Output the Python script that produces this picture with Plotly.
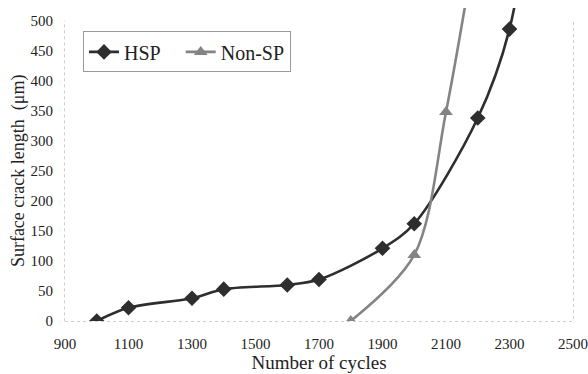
import plotly.graph_objects as go

# HSP data (last point lies beyond the 500 µm axis limit; line runs off the top)
hsp_cycles = [1000, 1100, 1300, 1400, 1600, 1700, 1900, 2000, 2200, 2300, 2400]
hsp_length = [0, 22, 38, 53, 60, 69, 121, 162, 338, 486, 830]

# Non-SP data (last point lies beyond the axis limit)
nonsp_cycles = [1800, 2000, 2100, 2200]
nonsp_length = [0, 110, 348, 650]

x_ticks = [900, 1100, 1300, 1500, 1700, 1900, 2100, 2300, 2500]
y_ticks = [0, 50, 100, 150, 200, 250, 300, 350, 400, 450, 500]

FONT = "Liberation Serif"
W, H = 588, 374
ML, MR, MB, MT = 65, 15, 53, 0
plot_top_px = 13
plot_h = H - MB - MT
dom_top = (plot_h - plot_top_px) / plot_h
y2_max = 500 / dom_top
NB = "\u00a0"

fig = go.Figure()
# invisible trace to create the main (visible) x/y subplot
fig.add_trace(go.Scatter(x=[None], y=[None], showlegend=False, hoverinfo="skip",
                         xaxis="x", yaxis="y"))
fig.add_trace(go.Scatter(
    x=hsp_cycles, y=hsp_length, name="HSP" + NB * 3, mode="lines+markers",
    line=dict(color="#2e2e2e", width=2.6, shape="spline", smoothing=0.9),
    marker=dict(symbol="diamond", size=12, color="#2e2e2e"),
    xaxis="x", yaxis="y2",
))
fig.add_trace(go.Scatter(
    x=nonsp_cycles, y=nonsp_length, name="Non-SP", mode="lines+markers",
    line=dict(color="#848484", width=2.6, shape="spline", smoothing=0.9),
    marker=dict(symbol="triangle-up", size=12, color="#848484"),
    xaxis="x", yaxis="y2",
))

fig.update_layout(
    width=W, height=H,
    margin=dict(l=ML, r=MR, b=MB, t=MT),
    paper_bgcolor="white", plot_bgcolor="white",
    font=dict(family=FONT, size=16, color="#222"),
    xaxis=dict(
        range=[900, 2500], tickvals=x_ticks, showgrid=False, zeroline=False,
        showline=False, ticks="outside", ticklen=9, tickcolor="rgba(0,0,0,0)", anchor="y",
        tickfont=dict(size=15, family=FONT),
        title=dict(text="Number of cycles", font=dict(size=19, family=FONT), standoff=0),
    ),
    yaxis=dict(
        domain=[0, dom_top], range=[0, 500], tickvals=y_ticks,
        showgrid=True, gridcolor="#c8c8c8", gridwidth=1, zeroline=False,
        showline=False, ticks="outside", ticklen=8, tickcolor="rgba(0,0,0,0)", anchor="x",
        tickfont=dict(size=15, family=FONT),
        title=dict(text="Surface crack length  (μm)", font=dict(size=18, family=FONT), standoff=1),
    ),
    yaxis2=dict(
        domain=[0, 1], range=[0, y2_max], visible=False, anchor="x",
        showgrid=False, zeroline=False,
    ),
    legend=dict(
        orientation="h", x=(83 - ML) / (W - ML - MR), y=(plot_h - 24) / plot_h,
        xanchor="left", yanchor="top",
        bgcolor="white", bordercolor="#9a9a9a", borderwidth=1,
        font=dict(size=20, family=FONT, color="#222"),
        itemwidth=30,
    ),
    shapes=[dict(
        type="rect", xref="x domain", yref="y domain", x0=0, x1=1, y0=0, y1=1,
        line=dict(color="#9a9a9a", width=1, dash="dot"), layer="below",
    )],
)

fig.write_html(
    "out.html",
    config={"displayModeBar": False},
    post_script="document.body.style.margin='0';document.body.style.overflow='hidden';",
)
